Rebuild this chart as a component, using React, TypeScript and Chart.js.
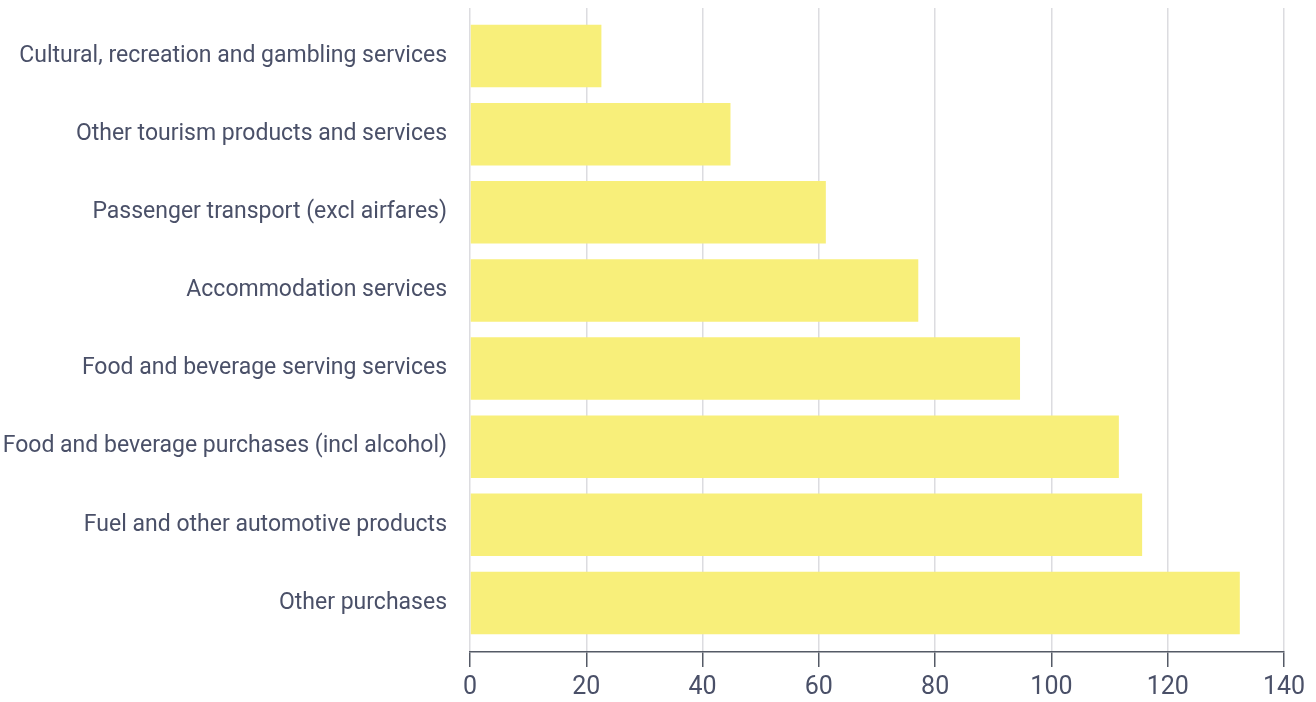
import React, { useEffect, useRef } from "react";
import { Chart, registerables } from "chart.js";

Chart.register(...registerables);

const categories = [
  "Cultural, recreation and gambling services",
  "Other tourism products and services",
  "Passenger transport (excl airfares)",
  "Accommodation services",
  "Food and beverage serving services",
  "Food and beverage purchases (incl alcohol)",
  "Fuel and other automotive products",
  "Other purchases",
];
const values = [22.6, 44.8, 61.2, 77.1, 94.6, 111.6, 115.6, 132.4];
const xTicks = [0, 20, 40, 60, 80, 100, 120, 140];

const FONT = "Roboto, sans-serif";
const TEXT = "#4a5068";

export default function App() {
  const ref = useRef<HTMLCanvasElement | null>(null);
  useEffect(() => {
    if (!ref.current) return;
    const chart = new Chart(ref.current, {
      type: "bar",
      data: {
        datasets: [
          {
            data: values.map((v, i) => ({ x: v, y: i })),
            backgroundColor: "#f8ef7a",
            borderWidth: 0,
            barPercentage: 0.8,
            categoryPercentage: 1,
          },
        ],
      },
      options: {
        indexAxis: "y",
        animation: false,
        responsive: false,
        maintainAspectRatio: false,
        layout: { padding: { top: 8, right: 32, left: 0, bottom: 0 } },
        plugins: { legend: { display: false }, tooltip: { enabled: false } },
        scales: {
          x: {
            type: "linear",
            min: 0,
            max: 140,
            bounds: "data",
            afterBuildTicks: (axis: any) => {
              axis.ticks = xTicks.map((v) => ({ value: v }));
            },
            afterFit: (axis: any) => {
              axis.height = 50;
            },
            grid: {
              color: "#dcdce0",
              lineWidth: 1.5,
              drawTicks: true,
              tickLength: 15,
              tickColor: "#555a66",
              tickWidth: 1.5,
            },
            border: { display: true, color: "#555a66", width: 1.5 },
            ticks: {
              padding: 6,
              color: TEXT,
              font: { family: FONT, size: 25 },
              maxRotation: 0,
            },
          },
          y: {
            type: "linear",
            reverse: true,
            offset: false,
            bounds: "data",
            min: -0.615,
            max: 7.628,
            afterBuildTicks: (axis: any) => {
              axis.ticks = categories.map((_, i) => ({ value: i }));
            },
            afterFit: (axis: any) => {
              axis.width = 470;
              axis.paddingTop = 0;
              axis.paddingBottom = 0;
            },
            grid: { display: false, drawTicks: false, offset: false },
            border: { display: false },
            ticks: {
              padding: 23,
              color: TEXT,
              font: { family: FONT, size: 23 },
              callback: (v: any) => categories[v as number] ?? "",
              autoSkip: false,
            },
          },
        },
      },
    });
    return () => chart.destroy();
  }, []);
  return (
    <div style={{ position: "fixed", left: 0, top: 0, width: 1316, height: 702, background: "#fff" }}>
      <canvas ref={ref} width={1316} height={702} style={{ width: 1316, height: 702 }} />
    </div>
  );
}
